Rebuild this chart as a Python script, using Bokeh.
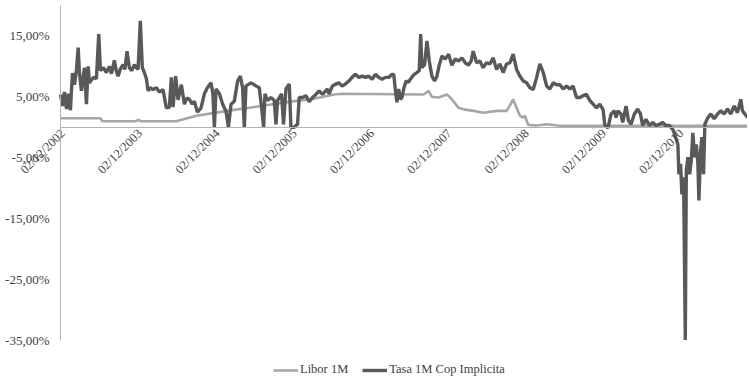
import pandas as pd
from math import pi
from bokeh.plotting import figure
from bokeh.models import (Range1d, FixedTicker, CustomJSTickFormatter, DatetimeTickFormatter,
                          Legend, LegendItem, ColumnDataSource)
from bokeh.embed import file_html
from bokeh.resources import INLINE

# ---- data (time as decimal year, value in %) ----
tasa_t = [2002.887, 2002.913, 2002.939, 2002.965, 2002.990, 2003.016, 2003.029, 2003.042, 2003.068, 2003.094,
          2003.116, 2003.132, 2003.158, 2003.197, 2003.223, 2003.245, 2003.262, 2003.313, 2003.352, 2003.382,
          2003.404, 2003.442, 2003.481, 2003.520, 2003.546, 2003.584, 2003.610, 2003.632, 2003.662, 2003.697,
          2003.720, 2003.748, 2003.778, 2003.810, 2003.843, 2003.869, 2003.891, 2003.920, 2003.946, 2003.972,
          2003.998, 2004.020, 2004.049, 2004.084, 2004.127, 2004.166, 2004.213, 2004.256, 2004.295, 2004.321,
          2004.343, 2004.376, 2004.407, 2004.450, 2004.489, 2004.521, 2004.553, 2004.592, 2004.618, 2004.656,
          2004.704, 2004.747, 2004.786, 2004.833, 2004.857, 2004.876, 2004.898, 2004.941, 2004.983, 2005.027,
          2005.057, 2005.092, 2005.134, 2005.177, 2005.212, 2005.241, 2005.263, 2005.285, 2005.350, 2005.415,
          2005.457, 2005.492, 2005.513, 2005.531, 2005.564, 2005.608, 2005.651, 2005.673, 2005.693, 2005.745,
          2005.771, 2005.802, 2005.845, 2005.867, 2005.909, 2005.952, 2005.974, 2006.016, 2006.060, 2006.103,
          2006.146, 2006.189, 2006.232, 2006.275, 2006.319, 2006.339, 2006.361, 2006.404, 2006.448, 2006.486,
          2006.529, 2006.572, 2006.616, 2006.658, 2006.701, 2006.745, 2006.787, 2006.830, 2006.874, 2006.917,
          2006.959, 2007.003, 2007.046, 2007.088, 2007.132, 2007.175, 2007.197, 2007.217, 2007.239, 2007.261,
          2007.282, 2007.304, 2007.326, 2007.356, 2007.390, 2007.411, 2007.455, 2007.498, 2007.527, 2007.546,
          2007.562, 2007.597, 2007.627, 2007.657, 2007.691, 2007.726, 2007.756, 2007.786, 2007.821, 2007.863,
          2007.907, 2007.950, 2007.992, 2008.036, 2008.079, 2008.122, 2008.165, 2008.199, 2008.225, 2008.269,
          2008.311, 2008.354, 2008.398, 2008.441, 2008.483, 2008.527, 2008.570, 2008.612, 2008.656, 2008.699,
          2008.741, 2008.785, 2008.828, 2008.871, 2008.915, 2008.957, 2009.000, 2009.044, 2009.086, 2009.129,
          2009.173, 2009.215, 2009.258, 2009.302, 2009.345, 2009.387, 2009.431, 2009.474, 2009.516, 2009.560,
          2009.603, 2009.645, 2009.689, 2009.732, 2009.775, 2009.819, 2009.861, 2009.904, 2009.926, 2009.968,
          2010.007, 2010.051, 2010.072, 2010.094, 2010.136, 2010.158, 2010.201, 2010.232, 2010.265, 2010.309,
          2010.352, 2010.387, 2010.417, 2010.459, 2010.503, 2010.546, 2010.588, 2010.632, 2010.675, 2010.717,
          2010.761, 2010.804, 2010.830, 2010.872, 2010.885, 2010.907, 2010.924, 2010.946, 2010.968, 2010.981,
          2011.002, 2011.024, 2011.045, 2011.066, 2011.088, 2011.110, 2011.131, 2011.144, 2011.166, 2011.182,
          2011.204, 2011.221, 2011.260, 2011.299, 2011.342, 2011.385, 2011.428, 2011.472, 2011.514, 2011.557,
          2011.601, 2011.643, 2011.686, 2011.708, 2011.751, 2011.773]
tasa_v = [5.4, 3.5, 5.8, 3.0, 5.5, 2.8, 6.0, 8.9, 7.0, 9.5,
          13.1, 9.0, 6.0, 9.8, 3.8, 10.0, 7.3, 8.2, 8.0, 15.3,
          9.3, 9.8, 9.0, 10.0, 8.8, 11.0, 9.2, 8.4, 9.6, 10.3,
          9.5, 12.5, 9.8, 9.3, 10.3, 9.8, 9.5, 17.5, 9.8, 9.0,
          8.0, 6.0, 6.5, 6.2, 6.5, 5.8, 6.2, 3.2, 3.3, 8.2,
          3.3, 8.4, 4.5, 7.0, 3.8, 4.8, 4.6, 3.8, 4.3, 2.5,
          3.2, 5.5, 6.5, 7.3, 5.5, 0.0, 6.3, 5.5, 3.8, 2.6,
          0.0, 3.8, 4.3, 7.6, 8.4, 6.5, 0.0, 6.8, 7.3, 6.8,
          6.5, 2.7, 0.0, 5.5, 4.4, 4.9, 4.4, 0.5, 4.4, 5.5,
          0.5, 6.3, 7.1, 0.0, 0.0, 0.5, 4.9, 4.9, 5.2, 4.2,
          4.9, 5.4, 6.0, 5.4, 6.0, 6.3, 5.5, 6.8, 7.1, 7.3,
          6.8, 7.1, 7.6, 8.2, 8.7, 8.2, 8.4, 8.2, 8.4, 7.9,
          8.7, 8.2, 7.9, 8.2, 8.2, 8.7, 8.7, 6.3, 4.1, 6.3,
          4.6, 4.9, 6.3, 7.6, 7.4, 7.9, 8.6, 9.0, 9.3, 15.3,
          9.8, 10.3, 14.2, 10.9, 8.4, 7.6, 8.4, 10.2, 11.7, 11.2,
          12.0, 10.2, 11.2, 10.9, 11.4, 10.6, 10.2, 10.9, 12.5, 10.6,
          10.9, 9.8, 10.6, 10.4, 11.4, 9.5, 10.4, 9.0, 10.4, 10.6,
          12.0, 9.5, 8.4, 7.6, 7.3, 6.5, 6.2, 8.2, 10.4, 9.0,
          6.8, 6.3, 7.3, 7.0, 7.0, 6.3, 6.8, 6.3, 6.8, 4.9,
          4.9, 5.2, 5.4, 4.4, 3.8, 3.2, 3.8, 2.9, 0.4, -0.1,
          2.2, 2.7, 1.6, 2.7, 2.2, 0.8, 3.5, 1.1, 0.5, 2.2,
          3.0, 2.2, 0.3, 1.3, 0.3, 0.8, 0.3, 0.5, 0.8, 0.3,
          0.3, -0.3, -1.1, -2.8, -7.7, -6.0, -11.0, -8.2, -34.9, -7.1,
          -4.9, -7.7, -5.5, -0.9, -4.9, -2.8, -6.0, -12.0, -3.8, -1.6,
          -7.7, 0.5, 1.6, 2.2, 1.4, 2.2, 2.7, 2.2, 3.0, 2.2,
          3.5, 2.4, 4.6, 2.7, 2.0, 1.6]

libor_t = [2002.887, 2003.404, 2003.429, 2003.856, 2003.894, 2003.933, 2004.385, 2004.643, 2005.044, 2005.483,
           2005.909, 2006.129, 2006.426, 2006.529, 2007.584, 2007.649, 2007.691, 2007.778, 2007.885, 2007.950,
           2008.036, 2008.122, 2008.230, 2008.354, 2008.527, 2008.656, 2008.699, 2008.741, 2008.785, 2008.828,
           2008.871, 2008.893, 2008.935, 2009.044, 2009.173, 2009.345, 2011.773]
libor_v = [1.5, 1.5, 1.0, 1.0, 1.2, 1.0, 1.0, 1.9, 2.7, 3.5,
           4.3, 4.6, 5.4, 5.5, 5.4, 6.0, 5.0, 4.9, 5.4, 4.6,
           3.2, 2.9, 2.7, 2.4, 2.7, 2.7, 3.6, 4.6, 3.2, 1.9,
           1.6, 1.9, 0.4, 0.3, 0.5, 0.25, 0.25]

tick_dates = ["2002-12-02", "2003-12-02", "2004-12-02", "2005-12-02", "2006-12-02",
              "2007-12-02", "2008-12-02", "2009-12-02", "2010-12-02"]
y_ticks = [-35, -25, -15, -5, 5, 15]
y_min, y_max = -35, 20
series_names = ["Libor 1M", "Tasa 1M Cop Implicita"]


def to_ms(years):
    out = []
    for t in years:
        y = int(t)
        frac = t - y
        a = pd.Timestamp(year=y, month=1, day=1)
        b = pd.Timestamp(year=y + 1, month=1, day=1)
        out.append(float((a + (b - a) * frac).value // 10**6))
    return out


tasa_src = ColumnDataSource(dict(x=to_ms(tasa_t), y=tasa_v))
libor_src = ColumnDataSource(dict(x=to_ms(libor_t), y=libor_v))

x_start = to_ms([tasa_t[0]])[0]
x_end = to_ms([tasa_t[-1]])[0]

# layout: frame fills the figure; the value axis sits 60px in from the left
W, H = 747, 378
AX_LEFT = 60
ms_per_px = (x_end - x_start) / (W - AX_LEFT)
pad_top_px, pad_bottom_px = 5, 38
pct_per_px = (y_max - y_min) / (H - pad_top_px - pad_bottom_px)

p = figure(width=W, height=H, output_backend="svg", toolbar_location=None,
           x_axis_type="datetime",
           x_range=Range1d(x_start - AX_LEFT * ms_per_px, x_end),
           y_range=Range1d(y_min - pad_bottom_px * pct_per_px, y_max + pad_top_px * pct_per_px),
           min_border_left=0, min_border_right=0, min_border_top=0, min_border_bottom=0)
p.outline_line_color = None
p.xgrid.visible = False
p.ygrid.visible = False

FONT = "Liberation Serif"
TXT = "#404040"

r_libor = p.line("x", "y", source=libor_src, line_color="#a6a6a6", line_width=2.6)
r_tasa = p.line("x", "y", source=tasa_src, line_color="#595959", line_width=3.4)

xa = p.xaxis[0]
xa.fixed_location = 0
xa.bounds = (x_start, x_end)
xa.ticker = FixedTicker(ticks=[float(pd.Timestamp(d).value // 10**6) for d in tick_dates])
fmt = "%d/%m/%Y"
xa.formatter = DatetimeTickFormatter(milliseconds=fmt, seconds=fmt, minsec=fmt, minutes=fmt,
                                     hourmin=fmt, hours=fmt, days=fmt, months=fmt, years=fmt)
xa.major_label_orientation = pi / 4
xa.major_tick_in = 0
xa.major_tick_out = 0
xa.minor_tick_in = 0
xa.minor_tick_out = 0
xa.axis_line_color = "#b3b3b3"
xa.major_label_text_font = FONT
xa.major_label_text_font_size = "12.5px"
xa.major_label_text_color = TXT
xa.major_label_standoff = 4

ya = p.yaxis[0]
ya.fixed_location = x_start
ya.bounds = (y_min, y_max)
ya.ticker = FixedTicker(ticks=y_ticks)
ya.formatter = CustomJSTickFormatter(code="return tick.toFixed(2).replace('.', ',') + '%';")
ya.major_tick_in = 0
ya.major_tick_out = 0
ya.minor_tick_in = 0
ya.minor_tick_out = 0
ya.axis_line_color = "#b3b3b3"
ya.major_label_text_font = FONT
ya.major_label_text_font_size = "13px"
ya.major_label_text_color = TXT
ya.major_label_standoff = 11

legend = Legend(items=[LegendItem(label=series_names[0], renderers=[r_libor]),
                       LegendItem(label=series_names[1], renderers=[r_tasa])],
                orientation="horizontal", location=(273, 1),
                padding=0, margin=0, spacing=14, label_standoff=2,
                glyph_width=25, glyph_height=12, label_height=12,
                border_line_alpha=0, background_fill_alpha=0,
                label_text_font=FONT, label_text_font_size="12.5px", label_text_color=TXT)
p.add_layout(legend, "center")

open("out.html", "w").write(file_html(p, INLINE))
